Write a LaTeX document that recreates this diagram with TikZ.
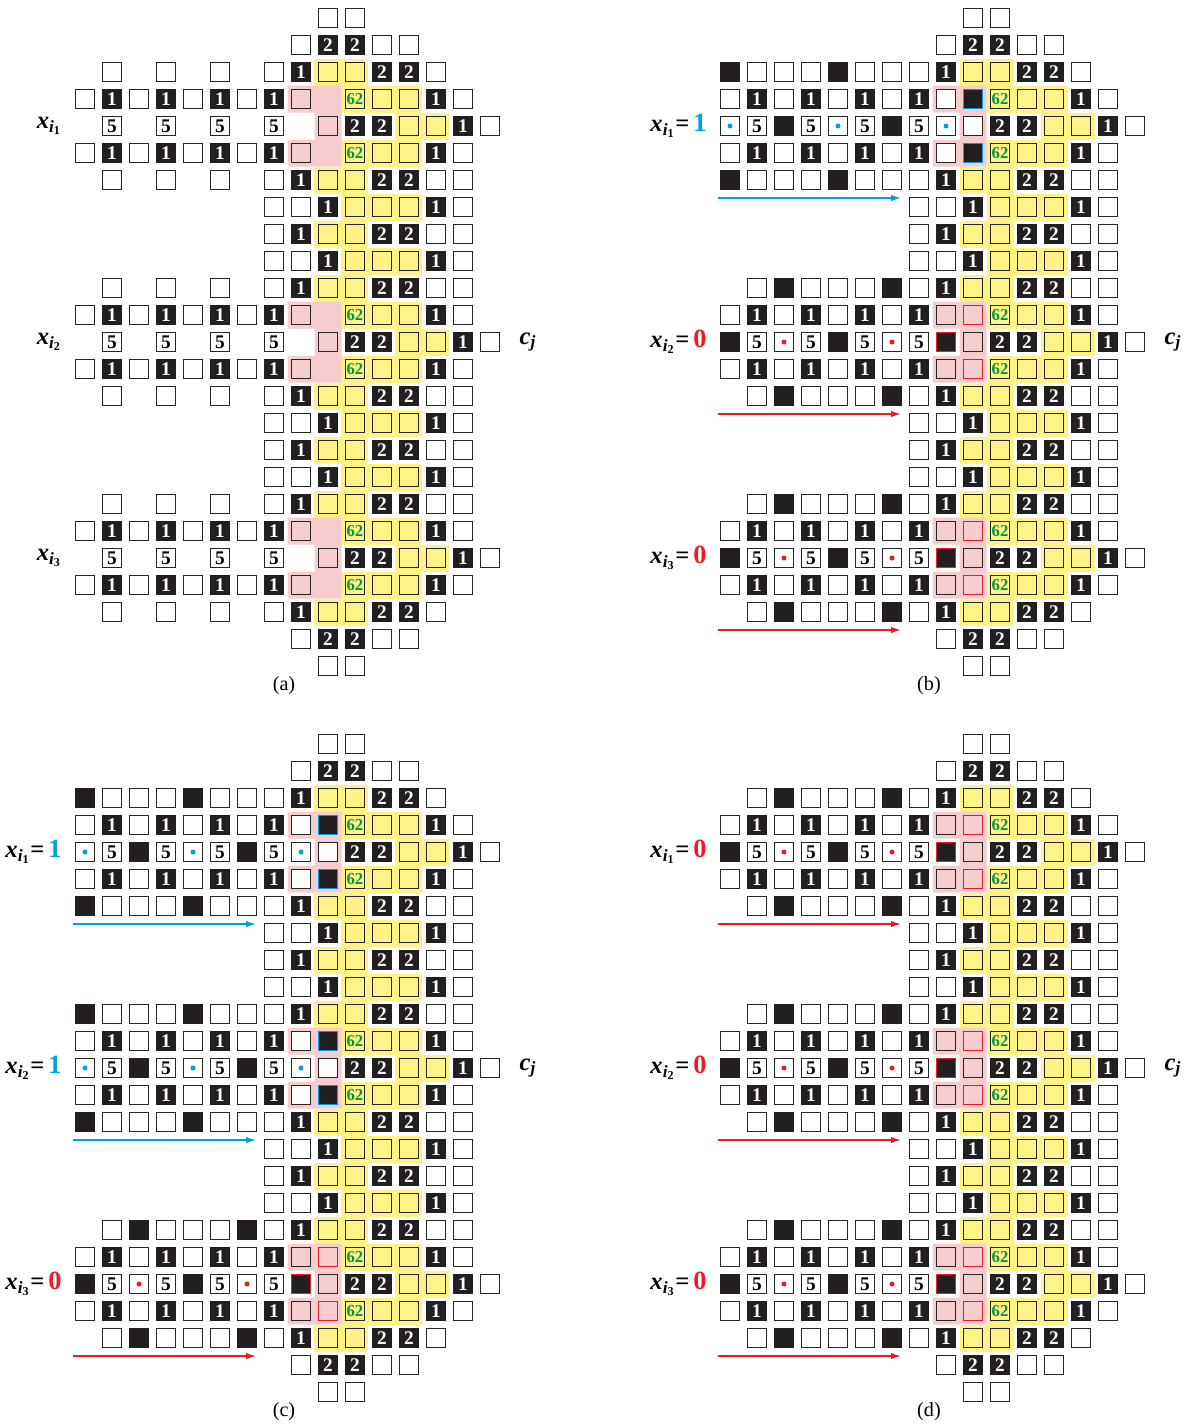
\documentclass[tikz,border=0pt]{standalone}
\usepackage{fontspec}
\setmainfont{Liberation Serif}
\usetikzlibrary{arrows.meta}

\definecolor{cellblk}{RGB}{35,31,32}
\definecolor{cellyel}{RGB}{255,243,135}
\definecolor{cellpink}{RGB}{246,205,206}
\definecolor{valcyan}{RGB}{0,160,228}
\definecolor{valred}{RGB}{236,28,36}
\definecolor{numgreen}{RGB}{0,150,64}

\newcommand{\cellfont}{\fontsize{11}{11}\selectfont\bfseries}
\newcommand{\sixfont}{\fontsize{9.5}{9.5}\selectfont\bfseries}
\newcommand{\labfont}{\fontsize{14}{14}\selectfont\bfseries}
\newcommand{\capfont}{\fontsize{11.5}{13}\selectfont}
\newcommand{\xvar}[1]{\textit{x}\textsubscript{\textit{i}\textsubscript{#1}}}
\newcommand{\cvar}{\textit{c}\textsubscript{\textit{j}}}
\newcommand{\valtxt}[2]{\textcolor{#1}{\fontsize{15}{15}\selectfont #2}}

\tikzset{
  cell/.style={draw=black!85, line width=1pt, minimum size=0.38cm, inner sep=0pt, font=\cellfont},
  wc/.style={cell, fill=white},
  bk/.style={cell, fill=cellblk, draw=cellblk, text=white},
  bone/.style={bk, execute at begin node={1}},
  btwo/.style={bk, execute at begin node={2}},
  five/.style={wc, execute at begin node={5}},
  yc/.style={cell, fill=cellyel, preaction={draw=cellyel, line width=0.16cm}},
  ysix/.style={yc, font=\sixfont, text=numgreen, execute at begin node={62}},
  pc/.style={cell, fill=cellpink},
  pred/.style={pc, draw=valred},
  bcy/.style={bk, draw=valcyan},
  bred/.style={bk, draw=valred},
  dotc/.style={wc, path picture={\fill[valcyan] (path picture bounding box.center) circle (0.05);}},
  dotr/.style={wc, path picture={\fill[valred] (path picture bounding box.center) circle (0.05);}},
  varlab/.style={anchor=east, inner sep=0pt, font=\labfont},
  captxt/.style={inner sep=0pt, font=\capfont},
  varr/.style={line width=0.8pt, -{Latex[length=2mm, width=1.3mm]}}
}

% one row of cells: list of column/style
\newcommand{\cellrow}[2]{%
  \foreach \ccol/\csty in {#2} {\node[\csty] (\pnl-#1-\ccol) at (\ccol*0.54,-#1*0.54) {};}}

% variable gadget: first row, index, value (n, 1 or 0)
\newcommand{\gadget}[3]{%
  \pgfmathtruncatemacro\rowa{#1}
  \pgfmathtruncatemacro\rowb{#1+1}
  \pgfmathtruncatemacro\rowc{#1+2}
  \pgfmathtruncatemacro\rowd{#1+3}
  \pgfmathtruncatemacro\rowe{#1+4}
  \fill[cellpink] (4.05,-\rowb*0.54+0.27) -- ++(1.08,0) -- ++(0,-1.62) -- ++(-1.08,0)
    -- ++(0,0.54) -- ++(0.54,0) -- ++(0,0.54) -- ++(-0.54,0) -- cycle;
  \foreach \r in {\rowb,\rowd} {\cellrow{\r}{0/wc,1/bone,2/wc,3/bone,4/wc,5/bone,6/wc,7/bone}}
  \if n#3
    \foreach \r in {\rowa,\rowe} {\cellrow{\r}{1/wc,3/wc,5/wc,7/wc}}
    \foreach \r in {\rowb,\rowd} {\cellrow{\r}{8/pc}}
    \cellrow{\rowc}{1/five,3/five,5/five,7/five,9/pc}
    \node[varlab] (\pnl-x#2) at (-0.46,-\rowc*0.54) {\xvar{#2}};
  \else\if 1#3
    \foreach \r in {\rowa,\rowe} {\cellrow{\r}{0/bk,1/wc,2/wc,3/wc,4/bk,5/wc,6/wc,7/wc}}
    \foreach \r in {\rowb,\rowd} {\cellrow{\r}{8/wc,9/bcy}}
    \cellrow{\rowc}{0/dotc,1/five,2/bk,3/five,4/dotc,5/five,6/bk,7/five,8/dotc,9/wc}
    \node[varlab] (\pnl-x#2) at (-0.46,-\rowc*0.54) {\xvar{#2}=\,\valtxt{valcyan}{1}};
    \coordinate (\pnl-s#2) at (-0.24,-\rowe*0.54-0.36);
    \coordinate (\pnl-e#2) at (3.42,-\rowe*0.54-0.36);
    \draw[varr, valcyan] (\pnl-s#2) -- (\pnl-e#2);
  \else
    \foreach \r in {\rowa,\rowe} {\cellrow{\r}{1/wc,2/bk,3/wc,4/wc,5/wc,6/bk,7/wc}}
    \foreach \r in {\rowb,\rowd} {\cellrow{\r}{8/pc,9/pred}}
    \cellrow{\rowc}{0/bk,1/five,2/dotr,3/five,4/bk,5/five,6/dotr,7/five,8/bred,9/pc}
    \node[varlab] (\pnl-x#2) at (-0.46,-\rowc*0.54) {\xvar{#2}=\,\valtxt{valred}{0}};
    \coordinate (\pnl-s#2) at (-0.24,-\rowe*0.54-0.36);
    \coordinate (\pnl-e#2) at (3.42,-\rowe*0.54-0.36);
    \draw[varr, valred] (\pnl-s#2) -- (\pnl-e#2);
  \fi\fi}

% whole panel: name, shift, three values
\newcommand{\drawpanel}[6]{%
  \begin{scope}[shift={(#2,#3)}]
    \def\pnl{#1}
    \cellrow{0}{9/wc,10/wc}
    \cellrow{1}{8/wc,9/btwo,10/btwo,11/wc,12/wc}
    \foreach \r in {2,22} {\cellrow{\r}{8/bone,9/yc,10/yc,11/btwo,12/btwo,13/wc}}
    \foreach \r in {6,8,10,14,16,18} {\cellrow{\r}{8/bone,9/yc,10/yc,11/btwo,12/btwo,13/wc,14/wc}}
    \foreach \r in {7,9,15,17} {\cellrow{\r}{7/wc,8/wc,9/bone,10/yc,11/yc,12/yc,13/bone,14/wc}}
    \foreach \r in {8,16} {\cellrow{\r}{7/wc}}
    \foreach \r in {3,5,11,13,19,21} {\cellrow{\r}{10/ysix,11/yc,12/yc,13/bone,14/wc}}
    \foreach \r in {4,12,20} {\cellrow{\r}{10/btwo,11/btwo,12/yc,13/yc,14/bone,15/wc}}
    \cellrow{23}{8/wc,9/btwo,10/btwo,11/wc,12/wc}
    \cellrow{24}{9/wc,10/wc}
    \gadget{2}{1}{#4}
    \gadget{10}{2}{#5}
    \gadget{18}{3}{#6}
    \node[font=\labfont, inner sep=0pt] (\pnl-cj) at (8.86,-6.48) {\cvar};
    \node[captxt] (\pnl-cap) at (3.98,-13.36) {(#1)};
  \end{scope}}

\begin{document}
\begin{tikzpicture}
\useasboundingbox (0,0) rectangle (23.84,-28.48);
\drawpanel{a}{1.70}{-0.36}{n}{n}{n}
\drawpanel{b}{14.60}{-0.36}{1}{0}{0}
\drawpanel{c}{1.70}{-14.88}{1}{1}{0}
\drawpanel{d}{14.60}{-14.88}{0}{0}{0}
\end{tikzpicture}
\end{document}
